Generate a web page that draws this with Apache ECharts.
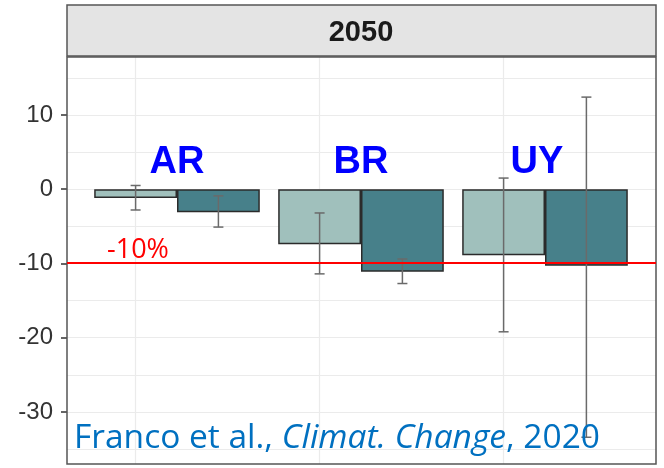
<!DOCTYPE html>
<html>
<head>
<meta charset="utf-8">
<script src="https://cdn.jsdelivr.net/npm/echarts@6/dist/echarts.min.js"></script>
<style>
  html, body { margin: 0; padding: 0; background: #fff; }
  #main { width: 664px; height: 468px; }
</style>
</head>
<body>
<div id="main"></div>
<script>
// data
var countries = ['AR', 'BR', 'UY'];
var lightVals = [-1.2, -7.4, -8.9];
var darkVals = [-3.1, -11.1, -10.3];
var lightLow = [-2.8, -11.4, -19.2];
var lightHigh = [0.5, -3.2, 1.5];
var darkLow = [-5.1, -12.7, -33.4];
var darkHigh = [-0.9, -9.4, 12.4];
var yTicks = [-30, -20, -10, 0, 10];
var yGrid = [-35, -30, -25, -20, -15, -5, 0, 5, 10, 15];
var threshold = -10;
var stripTitle = '2050';

var lightCol = '#a0c0bc';
var darkCol = '#47808a';
var yMin = -37, yMax = 17.8;

var chart = echarts.init(document.getElementById('main'));

function errData(lo, hi, side) {
    var out = [];
    for (var i = 0; i < lo.length; i++) out.push([i, lo[i], hi[i], side]);
    return out;
}

function renderErr(params, api) {
    var idx = api.value(0);
    var band = api.size([1, 0])[0];
    var off = api.value(3) * band * 0.225;
    var lo = api.coord([idx, api.value(1)]);
    var hi = api.coord([idx, api.value(2)]);
    var x = lo[0] + off;
    var cap = 5;
    var style = { stroke: '#6a6a6a', lineWidth: 1.5 };
    return {
        type: 'group',
        children: [
            { type: 'line', shape: { x1: x, y1: lo[1], x2: x, y2: hi[1] }, style: style },
            { type: 'line', shape: { x1: x - cap, y1: lo[1], x2: x + cap, y2: lo[1] }, style: style },
            { type: 'line', shape: { x1: x - cap, y1: hi[1], x2: x + cap, y2: hi[1] }, style: style }
        ]
    };
}

var hGrid = yGrid.map(function (v) { return { yAxis: v }; });
var vGrid = countries.map(function (c) { return { xAxis: c }; });

var option = {
    animation: false,
    grid: [
        // full panel (axis, grid lines, threshold)
        { left: 67, right: 8, top: 57, bottom: 4 },
        // discrete range with ggplot-like 0.6 expansion on each side
        { left: 85, right: 27, top: 57, bottom: 4 }
    ],
    xAxis: [
        { type: 'value', gridIndex: 0, min: 0, max: 1, show: false },
        { type: 'category', gridIndex: 1, data: countries, show: false }
    ],
    yAxis: [
        {
            type: 'value', gridIndex: 0, min: yMin, max: yMax,
            axisLine: { show: false },
            axisTick: { show: true, customValues: yTicks, length: 6, lineStyle: { color: '#333', width: 1.5 } },
            axisLabel: { customValues: yTicks, margin: 14, fontFamily: 'Liberation Sans', fontSize: 24, color: '#333' },
            splitLine: { show: false }
        },
        { type: 'value', gridIndex: 1, min: yMin, max: yMax, show: false, splitLine: { show: false } }
    ],
    series: [
        {
            type: 'line',
            xAxisIndex: 0, yAxisIndex: 0,
            data: [[0.5, 0]],
            symbol: 'none',
            lineStyle: { opacity: 0 },
            silent: true,
            markLine: {
                silent: true,
                symbol: 'none',
                z: 1,
                label: { show: false },
                lineStyle: { color: '#ebebeb', width: 1.2, type: 'solid' },
                data: hGrid
            },
            z: 1
        },
        {
            name: 'light',
            type: 'bar',
            xAxisIndex: 1, yAxisIndex: 1,
            data: lightVals,
            barWidth: '45%',
            barGap: '0%',
            itemStyle: { color: lightCol, borderColor: '#2b2b2b', borderWidth: 1.5 },
            markLine: {
                silent: true,
                symbol: 'none',
                z: 1,
                label: { show: false },
                lineStyle: { color: '#ebebeb', width: 1.2, type: 'solid' },
                data: vGrid
            },
            z: 3
        },
        {
            name: 'dark',
            type: 'bar',
            xAxisIndex: 1, yAxisIndex: 1,
            data: darkVals,
            barWidth: '45%',
            barGap: '0%',
            itemStyle: { color: darkCol, borderColor: '#2b2b2b', borderWidth: 1.5 },
            z: 3
        },
        {
            type: 'custom',
            xAxisIndex: 1, yAxisIndex: 1,
            renderItem: renderErr,
            data: errData(lightLow, lightHigh, -1),
            z: 6
        },
        {
            type: 'custom',
            xAxisIndex: 1, yAxisIndex: 1,
            renderItem: renderErr,
            data: errData(darkLow, darkHigh, 1),
            z: 6
        }
    ]
};
chart.setOption(option);

// annotations placed through the axes
var labelPts = countries.map(function (c) { return chart.convertToPixel({ xAxisIndex: 1, yAxisIndex: 1 }, [c, 3.6]); });
var thrPt = chart.convertToPixel({ xAxisIndex: 1, yAxisIndex: 1 }, ['AR', threshold]);
var thrL = chart.convertToPixel({ xAxisIndex: 0, yAxisIndex: 0 }, [0, threshold]);
var thrR = chart.convertToPixel({ xAxisIndex: 0, yAxisIndex: 0 }, [1, threshold]);
var ty = Math.round(thrL[1]);
var graphics = [
    // facet strip
    { type: 'rect', shape: { x: 67, y: 5, width: 589, height: 51 },
      style: { fill: '#e4e4e4', stroke: '#555', lineWidth: 1.5 }, z: 10 },
    { type: 'text', x: 361, y: 33,
      style: { text: stripTitle, font: 'bold 29px "Liberation Sans"', fill: '#1a1a1a', align: 'center', verticalAlign: 'middle' }, z: 11 },
    // panel border
    { type: 'rect', shape: { x: 67, y: 57, width: 589, height: 407 },
      style: { fill: null, stroke: '#555', lineWidth: 1.5 }, z: 10 },
    // -10 % reference line
    { type: 'line', shape: { x1: thrL[0], y1: ty, x2: thrR[0], y2: ty },
      style: { stroke: '#ff0000', lineWidth: 1.8 }, z: 12 },
    { type: 'text', x: thrPt[0] - 70, y: thrPt[1],
      style: { text: '-10%', font: '27px "Open Sans"', fill: '#ff0000', align: 'left', verticalAlign: 'bottom' }, z: 11 },
    { type: 'text', x: 74, y: 455, scaleX: 1.0, originX: 0,
      style: { text: '{n|Franco et al., }{i|Climat. Change}{n|, 2020}', fill: '#0070c0',
               align: 'left', verticalAlign: 'bottom',
               rich: { n: { font: '33.5px "Open Sans"', fill: '#0070c0' }, i: { font: 'italic 33.5px "Open Sans"', fill: '#0070c0' } } }, z: 11 }
];
var nudge = [0, 0, -8];
countries.forEach(function (c, i) {
    graphics.push({ type: 'text', x: labelPts[i][0] + nudge[i], y: labelPts[i][1],
        style: { text: c, font: 'bold 38px "Liberation Sans"', fill: '#0000ff', align: 'center', verticalAlign: 'middle' }, z: 11 });
});
chart.setOption({ graphic: graphics });
</script>
</body>
</html>
